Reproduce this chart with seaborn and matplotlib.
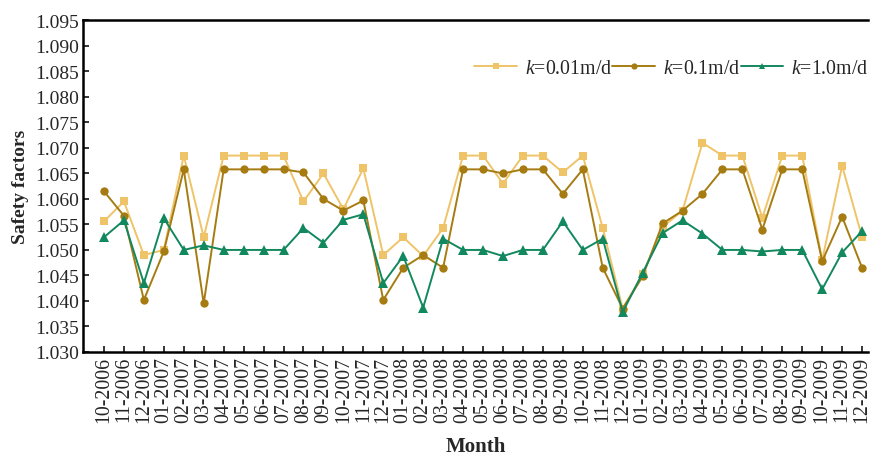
import matplotlib
matplotlib.use("Agg")
import matplotlib.pyplot as plt
import seaborn as sns
import pandas as pd
import numpy as np

months = ["10-2006", "11-2006", "12-2006",
          "01-2007", "02-2007", "03-2007", "04-2007", "05-2007", "06-2007",
          "07-2007", "08-2007", "09-2007", "10-2007", "11-2007", "12-2007",
          "01-2008", "02-2008", "03-2008", "04-2008", "05-2008", "06-2008",
          "07-2008", "08-2008", "09-2008", "10-2008", "11-2008", "12-2008",
          "01-2009", "02-2009", "03-2009", "04-2009", "05-2009", "06-2009",
          "07-2009", "08-2009", "09-2009", "10-2009", "11-2009", "12-2009"]

k_001 = [1.0556, 1.0595, 1.0490, 1.0500, 1.0685, 1.0525, 1.0685, 1.0685, 1.0685,
         1.0685, 1.0595, 1.0650, 1.0580, 1.0660, 1.0490, 1.0525, 1.0488, 1.0543,
         1.0685, 1.0685, 1.0630, 1.0685, 1.0685, 1.0652, 1.0685, 1.0543, 1.0385,
         1.0452, 1.0545, 1.0577, 1.0710, 1.0685, 1.0685, 1.0563, 1.0685, 1.0685,
         1.0480, 1.0665, 1.0525]

k_01 = [1.0615, 1.0567, 1.0402, 1.0497, 1.0658, 1.0395, 1.0658, 1.0658, 1.0658,
        1.0658, 1.0652, 1.0600, 1.0577, 1.0597, 1.0402, 1.0465, 1.0490, 1.0465,
        1.0658, 1.0658, 1.0650, 1.0658, 1.0658, 1.0610, 1.0658, 1.0465, 1.0385,
        1.0448, 1.0552, 1.0577, 1.0610, 1.0658, 1.0658, 1.0540, 1.0658, 1.0658,
        1.0478, 1.0565, 1.0465]

k_1 = [1.0525, 1.0558, 1.0435, 1.0562, 1.0500, 1.0509, 1.0500, 1.0500, 1.0500,
       1.0500, 1.0543, 1.0514, 1.0559, 1.0570, 1.0435, 1.0488, 1.0387, 1.0522,
       1.0500, 1.0500, 1.0488, 1.0500, 1.0500, 1.0556, 1.0500, 1.0522, 1.0378,
       1.0455, 1.0533, 1.0558, 1.0532, 1.0500, 1.0500, 1.0497, 1.0500, 1.0500,
       1.0423, 1.0495, 1.0537]

y_ticks = [1.030, 1.035, 1.040, 1.045, 1.050, 1.055, 1.060, 1.065,
           1.070, 1.075, 1.080, 1.085, 1.090, 1.095]

series_labels = ["$k$=0.01m/d", "$k$=0.1m/d", "$k$=1.0m/d"]

sns.set_style("ticks")
plt.rcParams["font.family"] = ["Liberation Serif", "DejaVu Serif"]
plt.rcParams["mathtext.fontset"] = "custom"
plt.rcParams["mathtext.rm"] = "Liberation Serif"
plt.rcParams["mathtext.it"] = "Liberation Serif:italic"

pos = np.arange(len(months))
df = pd.DataFrame({"pos": pos, "a": k_001, "b": k_01, "c": k_1})

fig = plt.figure(figsize=(8.72, 4.56), dpi=100)
ax = fig.add_axes([0.0952, 0.226, 0.9003, 0.727])

styles = [
    ("a", series_labels[0], "#EFC468", "s", 5.2),
    ("b", series_labels[1], "#A67C12", "o", 6.0),
    ("c", series_labels[2], "#12885E", "^", 6.6),
]
for col, lab, colr, mk, ms in styles:
    sns.lineplot(data=df, x="pos", y=col, ax=ax, color=colr, marker=mk,
                 markersize=ms, markeredgewidth=0, linewidth=1.4, label=lab)

ax.set_xlim(-1.05, 38.3)
ax.set_ylim(1.030, 1.095)
ax.set_xticks(pos)
ax.set_xticklabels(months, rotation=90, fontsize=14.3)
ax.set_yticks(y_ticks)
ax.set_yticklabels([f"{v:.3f}" for v in y_ticks], fontsize=14)
ax.tick_params(direction="in", length=4, width=1.3, pad=3)

for s in ["left", "bottom", "top"]:
    ax.spines[s].set_linewidth(1.8)
    ax.spines[s].set_color("black")
ax.spines["right"].set_visible(False)

ax.set_xlabel("Month", fontsize=15, fontweight="bold", labelpad=10)
ax.set_ylabel("Safety factors", fontsize=14, fontweight="bold", labelpad=4)

leg = ax.legend(loc="center right", bbox_to_anchor=(1.001, 0.856), ncol=3,
                frameon=False, fontsize=14.3, handlelength=2.15,
                handletextpad=0.4, columnspacing=0.0, markerscale=0.75,
                borderaxespad=0.0, borderpad=0.0)

fig.savefig("out.png", dpi=100)
